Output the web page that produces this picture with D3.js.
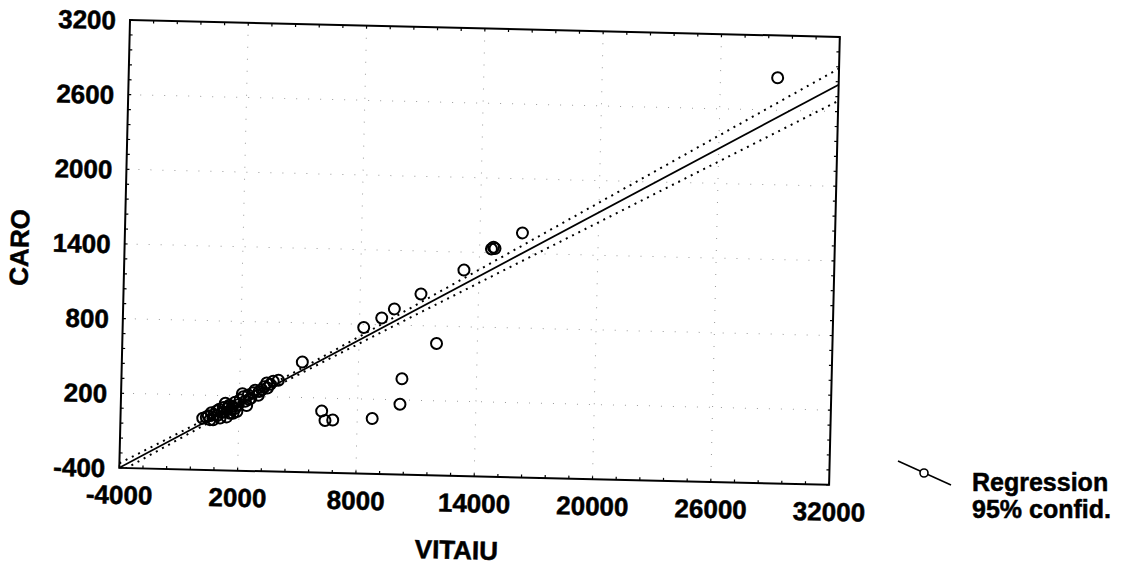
<!DOCTYPE html>
<html>
<head>
<meta charset="utf-8">
<script src="https://cdn.jsdelivr.net/npm/d3@7"></script>
<style>
  body { margin: 0; background: #fff; }
  text { font-family: "Liberation Sans", Arial, sans-serif; font-weight: bold; fill: #000; stroke: #000; stroke-width: 0.5px; }
</style>
</head>
<body>
<div id="chart"></div>
<script>
// scatter points
var vitaiu = [28900, 16150, 14600, 14780, 14700, 13230, 11080, 9750, 9120, 8220,
  11930, 10220, 10150, 8760, 5150, 6190, 6370, 6760, 2380,
  170, 450, 740, 870, 1130, 1200, 1400, 1500, 1670, 1790, 2040, 2200, 2450, 2580,
  2960, 3130, 3410, 3700, 3960, 1550, 1050, 540, 1890, 3370, 2790, 1385, 1700,
  700, 1000, 1300, 600, 2300, 1800, 2700, 2150,
  900, 1250, 1600, 1950, 2500, 3000, 3250, 3550, 350, 1450];
var caro = [2860, 1565, 1430, 1435, 1445, 1255, 1055, 930, 855, 775,
  660, 370, 165, 45, 485, 95, 20, 25, 125,
  15, 35, 45, 75, 65, 105, 95, 125, 115, 150, 170, 195, 210, 185,
  210, 255, 270, 325, 335, 60, 20, 5, 75, 310, 250, 30, 60,
  5, 90, 140, 60, 160, 100, 230, 220,
  40, 70, 90, 130, 175, 240, 280, 300, 25, 110];

// regression line and 95% band
var regX = [-4000, 32000];
var regY = [-399, 2816];
var bandX = [-4000, -1000, 2000, 5000, 8000, 11000, 14000, 17000, 20000, 23000, 26000, 29000, 32000];
var bandUpper = [-363, -106, 156, 424, 700, 980, 1261, 1542, 1823, 2104, 2385, 2666, 2946];
var bandLower = [-435, -156, 118, 386, 644, 900, 1155, 1410, 1665, 1920, 2175, 2430, 2686];

var xTicks = [-4000, 2000, 8000, 14000, 20000, 26000, 32000];
var yTicks = [-400, 200, 800, 1400, 2000, 2600, 3200];
var legendLabels = ["Regression", "95% confid."];

var WIDTH = 1138, HEIGHT = 569;
var MARGINS = { left: 130, top: 20 };
var W = 710, H = 448;

var svg = d3.select("#chart").append("svg")
  .attr("width", WIDTH).attr("height", HEIGHT);

// the scan sits slightly skewed, so turn the whole plot a little
var vis = svg.append("g")
  .attr("transform", "rotate(1.37," + MARGINS.left + "," + MARGINS.top + ") translate(" + MARGINS.left + "," + MARGINS.top + ")");

var xScale = d3.scaleLinear().domain([-4000, 32000]).range([0, W]);
var yScale = d3.scaleLinear().domain([-400, 3200]).range([H, 0]);

vis.append("defs").append("clipPath").attr("id", "clip")
  .append("rect").attr("width", W).attr("height", H);

// faint dotted grid
var grid = vis.append("g").attr("class", "grid");
grid.selectAll(".gx").data(xTicks.slice(1, -1)).enter().append("line")
  .attr("x1", function(d) { return xScale(d); }).attr("x2", function(d) { return xScale(d); })
  .attr("y1", 0).attr("y2", H)
  .attr("stroke", "#999").attr("stroke-width", 1).attr("stroke-dasharray", "1,11");
grid.selectAll(".gy").data(yTicks.slice(1, -1)).enter().append("line")
  .attr("y1", function(d) { return yScale(d); }).attr("y2", function(d) { return yScale(d); })
  .attr("x1", 0).attr("x2", W)
  .attr("stroke", "#999").attr("stroke-width", 1).attr("stroke-dasharray", "1,11");

// axes: labels only, ticks drawn inside the frame
var xAxis = d3.axisBottom(xScale).tickValues(xTicks).tickSize(0).tickPadding(0)
  .tickFormat(function(d) { return String(d); });
var gX = vis.append("g").attr("transform", "translate(0," + H + ")").call(xAxis);
gX.select(".domain").remove();
gX.selectAll("text").attr("y", 36).attr("dy", 0).style("font-size", "26px")
  .style("font-family", "Liberation Sans, Arial, sans-serif").style("font-weight", "bold");

var yAxis = d3.axisLeft(yScale).tickValues(yTicks).tickSize(0).tickPadding(0)
  .tickFormat(function(d) { return String(d); });
var gY = vis.append("g").call(yAxis);
gY.select(".domain").remove();
gY.selectAll("text").attr("x", -14).attr("dy", "0.35em").style("font-size", "26px")
  .style("font-family", "Liberation Sans, Arial, sans-serif").style("font-weight", "bold");

// minor ticks inside the frame
var minorX = d3.range(-4000, 32001, 1200);
var minorY = d3.range(-400, 3201, 120);
var ticks = vis.append("g").attr("stroke", "#000").attr("stroke-width", 1.2);
minorX.forEach(function(d) {
  ticks.append("line").attr("x1", xScale(d)).attr("x2", xScale(d)).attr("y1", 0).attr("y2", 3);
  ticks.append("line").attr("x1", xScale(d)).attr("x2", xScale(d)).attr("y1", H).attr("y2", H - 3);
});
minorY.forEach(function(d) {
  ticks.append("line").attr("y1", yScale(d)).attr("y2", yScale(d)).attr("x1", 0).attr("x2", 3);
  ticks.append("line").attr("y1", yScale(d)).attr("y2", yScale(d)).attr("x1", W).attr("x2", W - 3);
});

var chartBody = vis.append("g").attr("clip-path", "url(#clip)");

var lineGen = d3.line()
  .curve(d3.curveMonotoneX)
  .x(function(d) { return xScale(d[0]); })
  .y(function(d) { return yScale(d[1]); });

chartBody.append("path")
  .attr("d", lineGen(d3.zip(bandX, bandUpper)))
  .attr("fill", "none").attr("stroke", "#000").attr("stroke-width", 2)
  .attr("stroke-dasharray", "2,5");
chartBody.append("path")
  .attr("d", lineGen(d3.zip(bandX, bandLower)))
  .attr("fill", "none").attr("stroke", "#000").attr("stroke-width", 2)
  .attr("stroke-dasharray", "2,5");
chartBody.append("path")
  .attr("d", lineGen(d3.zip(regX, regY)))
  .attr("fill", "none").attr("stroke", "#000").attr("stroke-width", 1.8);

chartBody.selectAll("circle.pt").data(d3.zip(vitaiu, caro)).enter()
  .append("circle").attr("class", "pt")
  .attr("cx", function(d) { return xScale(d[0]); })
  .attr("cy", function(d) { return yScale(d[1]); })
  .attr("r", 5.5)
  .attr("fill", "none").attr("stroke", "#000").attr("stroke-width", 2);

// frame
vis.append("rect").attr("width", W).attr("height", H)
  .attr("fill", "none").attr("stroke", "#000").attr("stroke-width", 2);

// axis titles
vis.append("text")
  .attr("x", 339).attr("y", 531)
  .attr("text-anchor", "middle")
  .style("font-size", "26px")
  .text("VITAIU");

vis.append("text")
  .attr("transform", "translate(-96," + (H / 2 + 6) + ") rotate(-90)")
  .attr("text-anchor", "middle")
  .style("font-size", "26px")
  .text("CARO");

// legend
var legend = svg.append("g").attr("class", "sideLegend");
legend.append("line")
  .attr("x1", 898).attr("y1", 461).attr("x2", 951).attr("y2", 485)
  .attr("stroke", "#000").attr("stroke-width", 1.6);
legend.append("circle")
  .attr("cx", 924).attr("cy", 473).attr("r", 4)
  .attr("fill", "#fff").attr("stroke", "#000").attr("stroke-width", 1.6);
legendLabels.forEach(function(label, i) {
  legend.append("text")
    .attr("x", 972).attr("y", 491 + i * 27)
    .style("font-size", "25px")
    .text(label);
});
</script>
</body>
</html>
